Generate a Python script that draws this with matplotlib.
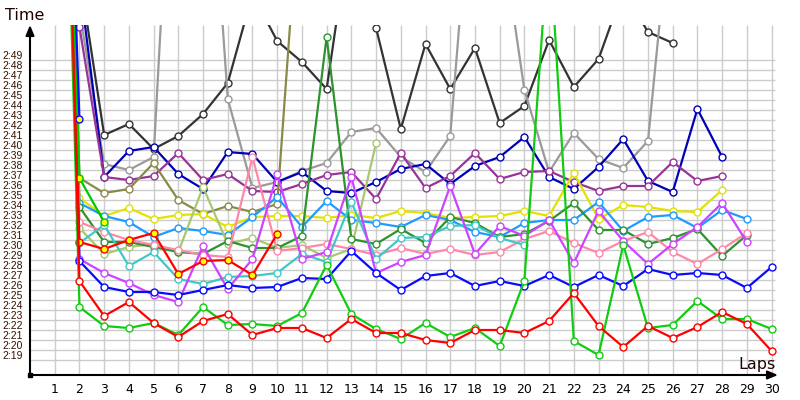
import matplotlib
matplotlib.use("Agg")
import matplotlib.pyplot as plt
from matplotlib.transforms import ScaledTranslation

# lap times in seconds (2:19 = 139), first value = lap 1
red_low = [238, 146.9, 143.4, 144.8, 142.7, 141.3, 142.9, 143.6, 141.5, 142.2, 142.2,
           141.2, 143.1, 141.7, 141.7, 141.0, 140.7, 142.0, 142.0, 141.7, 142.9,
           145.7, 142.4, 140.3, 142.4, 141.2, 142.3, 143.8, 142.6, 139.9]
green_low = [232, 144.3, 142.4, 142.2, 142.7, 141.5, 144.3, 142.5, 142.6, 142.4, 143.7,
             148.5, 143.6, 142.1, 141.1, 142.7, 141.3, 142.2, 140.4, 146.9, 181.5,
             140.9, 139.5, 150.5, 142.2, 142.5, 144.9, 143.1, 143.1, 142.1]
red_yellow = [240, 150.8, 150.1, 151.0, 151.7, 147.6, 148.9, 149.0, 147.5, 151.6]
blue = [236, 148.9, 146.3, 145.8, 145.8, 145.5, 146.0, 146.5, 146.2, 146.3, 147.2,
        147.1, 149.9, 147.7, 146.0, 147.4, 147.7, 146.4, 146.9, 146.4, 147.5,
        146.3, 147.5, 146.4, 148.1, 147.5, 147.7, 147.5, 146.2, 148.3]
navy = [245, 176.9, 157.3, 159.9, 160.3, 157.6, 156.1, 159.8, 159.6, 156.8, 157.8,
        155.9, 155.7, 156.8, 158.1, 158.6, 156.6, 158.4, 159.3, 161.3, 157.3,
        156.1, 158.3, 161.1, 156.9, 155.8, 164.1, 159.3]
black = [250, 177.7, 161.5, 162.6, 160.1, 161.4, 163.6, 166.7, 175.6, 170.9, 168.8,
         166.1, 183.0, 172.2, 162.1, 170.6, 166.1, 170.2, 162.7, 164.4, 171.0,
         166.3, 169.1, 176.0, 171.8, 170.7]
gray = [248, 174.0, 158.6, 158.0, 159.3, 205.0, 201.0, 165.1, 156.2, 156.8, 157.9,
        158.7, 161.8, 162.2, 159.3, 157.8, 161.4, 191.7, 183.0, 166.0, 157.8,
        161.7, 159.1, 158.2, 160.9, 186.0]
purple = [244, 172.3, 157.3, 157.0, 157.4, 159.7, 157.0, 157.6, 155.9, 155.8, 156.6,
          157.5, 157.8, 155.1, 159.7, 156.2, 157.4, 159.7, 157.1, 157.8, 157.9,
          156.8, 155.9, 156.4, 156.4, 158.8, 156.9, 157.4]
olive = [242, 157.2, 155.7, 156.1, 158.7, 155.0, 153.6, 154.4, 153.8, 154.6, 189.0]
yellow = [240, 155.2, 153.4, 154.2, 153.1, 153.5, 153.6, 152.3, 153.3, 153.4, 153.4,
          153.2, 153.5, 153.2, 153.9, 153.7, 153.2, 153.3, 153.4, 153.9, 153.4,
          157.7, 153.1, 154.5, 154.3, 153.9, 153.8, 156.0]
sky = [238, 154.7, 153.4, 152.8, 151.3, 152.2, 151.9, 151.5, 153.3, 155.3, 152.3,
       154.9, 153.0, 152.7, 152.3, 153.5, 153.0, 151.8, 151.3, 152.7, 153.0,
       153.0, 154.8, 151.9, 153.3, 153.5, 152.2, 154.0, 153.1]
dark_green = [236, 154.3, 150.8, 150.8, 150.3, 149.8, 149.6, 150.9, 150.2, 150.2, 151.4,
              171.3, 151.1, 150.6, 152.1, 150.7, 153.3, 152.7, 151.3, 151.6, 152.9,
              154.7, 152.0, 152.0, 150.6, 151.2, 152.1, 149.4, 151.5]
pink = [238, 152.8, 151.8, 151.0, 150.5, 150.0, 149.5, 149.3, 159.3, 149.9, 150.2,
        150.6, 150.1, 149.5, 150.2, 149.6, 150.1, 149.5, 149.8, 151.1, 151.9,
        150.7, 149.7, 150.9, 151.8, 149.8, 148.6, 150.1, 151.7]
yellow_green = [240, 152.2, 149.6, 150.3, 150.6, 149.8, 156.3, 150.6, 151.2, 150.2, 150.5,
                149.2, 150.1, 160.7]
turquoise = [236, 150.7, 152.5, 148.4, 149.8, 147.1, 146.6, 147.3, 147.4, 147.7, 149.6,
             148.8, 154.8, 149.1, 151.2, 151.3, 152.4, 152.5, 151.2, 150.5]
violet = [238, 149.1, 147.7, 146.7, 145.5, 144.8, 150.4, 146.1, 149.1, 157.6, 149.1,
          149.8, 157.3, 147.7, 148.8, 149.5, 156.4, 149.6, 152.4, 151.4, 153.0,
          148.7, 153.9, 150.9, 148.6, 150.6, 152.3, 154.7, 150.8]
green_yellow = [234, 157.2, 152.8]
blue_yellow = [234, 163.1]

series = [
    (black, "#333333", "white"),
    (gray, "#9a9a9a", "white"),
    (navy, "#0000b8", "white"),
    (purple, "#993399", "white"),
    (olive, "#8a8a48", "white"),
    (yellow, "#e2e200", "white"),
    (sky, "#1e9bff", "white"),
    (yellow_green, "#a8c870", "white"),
    (dark_green, "#2e922e", "white"),
    (pink, "#ff88aa", "white"),
    (turquoise, "#40c8c8", "white"),
    (violet, "#cc44ff", "white"),
    (blue, "#0a0aff", "white"),
    (red_yellow, "#ff0000", "#ffff00"),
    (green_yellow, "#00c800", "#ffff00"),
    (blue_yellow, "#0a0aff", "#ffff00"),
    (green_low, "#11cc11", "white"),
    (red_low, "#ff0000", "white"),
]

grid_secs = list(range(139, 170))
lap_ticks = list(range(1, 31))

fig = plt.figure(figsize=(8, 4), dpi=100)
ax = fig.add_axes([30 / 800, 25 / 400, 748 / 800, 350 / 400])
ax.set_xlim(0, 30.26)
ax.set_ylim(137.5, 172.5)

# grid
ax.hlines(grid_secs, 0, 30.15, color="#cccccc", lw=1, zorder=0)
ax.vlines(lap_ticks, 137.5, 172.5, color="#cccccc", lw=1, zorder=0)

for times, col, fill in series:
    laps = list(range(1, len(times) + 1))
    ax.plot(laps, times, "-o", color=col, lw=1.6, ms=5, mfc=fill, mec=col, mew=1,
            zorder=3)

for s in ax.spines.values():
    s.set_visible(False)

ax.set_xticks(lap_ticks)
ax.set_xticklabels([str(l) for l in lap_ticks], fontsize=9)
ax.set_yticks(grid_secs)
ax.set_yticklabels(["%d:%02d" % (s // 60, s % 60) for s in grid_secs],
                   fontsize=7.5, family="Liberation Sans", color="#331100")
ax.tick_params(axis="both", length=0)
ax.tick_params(axis="x", pad=6)
ax.tick_params(axis="y", pad=5)
off = ScaledTranslation(0, 5 / 100, fig.dpi_scale_trans)
for lab in ax.get_yticklabels():
    lab.set_transform(lab.get_transform() + off)

# axis arrows
ax.annotate("", xy=(0, 1.0), xytext=(0, 0), xycoords="axes fraction",
            arrowprops=dict(arrowstyle="-|>,head_length=0.6,head_width=0.25",
                            color="black", lw=1.5, shrinkA=0, shrinkB=0))
ax.annotate("", xy=(1.0, 0), xytext=(0, 0), xycoords="axes fraction",
            arrowprops=dict(arrowstyle="-|>,head_length=0.6,head_width=0.25",
                            color="black", lw=1.5, shrinkA=0, shrinkB=0))
ax.plot([0], [137.5], "s", color="black", ms=3, clip_on=False, zorder=5)

fig.text(5 / 800, 1 - 15 / 400, "Time", fontsize=11.5, va="center", ha="left",
         color="#220000")
fig.text(776 / 800, 1 - 364 / 400, "Laps", fontsize=11.5, va="center", ha="right",
         color="#220000")

fig.savefig("out.png", dpi=100)
